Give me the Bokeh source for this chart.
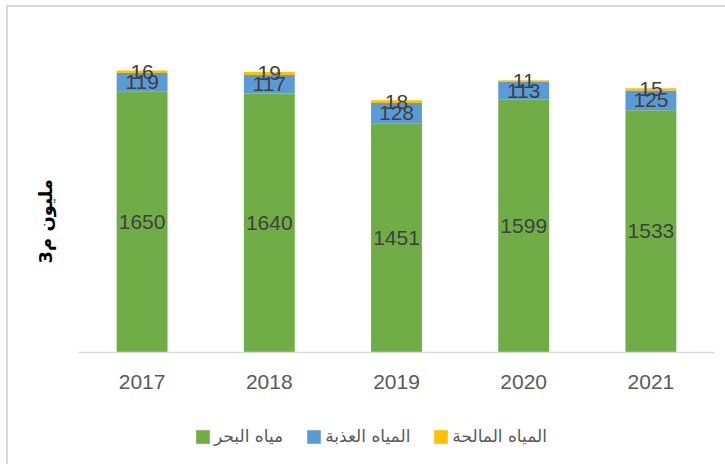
from bokeh.plotting import figure
from bokeh.layouts import column
from bokeh.models import ColumnDataSource, Legend, LegendItem, Title
from bokeh.core.properties import value
from bokeh.embed import file_html
from bokeh.resources import INLINE

years = ["2017", "2018", "2019", "2020", "2021"]
sea = [1650, 1640, 1451, 1599, 1533]
fresh = [119, 117, 128, 113, 125]
brackish = [16, 19, 18, 11, 15]
series_names = ["مياه البحر", "المياه العذبة", "المياه المالحة"]
colors = ["#70ad47", "#5b9bd5", "#ffc000"]
y_title = "مليون م3"

src = ColumnDataSource(dict(years=years, sea=sea, fresh=fresh, brackish=brackish))

p = figure(x_range=years, y_range=(0, 2000), width=717, height=400,
           output_backend="svg", toolbar_location=None,
           min_border_left=70, min_border_right=11, min_border_top=29, min_border_bottom=55)
p.outline_line_color = None
p.xgrid.grid_line_color = None
p.ygrid.grid_line_color = None
p.yaxis.visible = False
p.xaxis.axis_line_color = "#d9d9d9"
p.xaxis.axis_line_width = 1.5
p.xaxis.major_tick_line_color = None
p.xaxis.minor_tick_line_color = None
p.xaxis.major_label_text_font = "Liberation Sans"
p.xaxis.major_label_text_font_size = "21px"
p.xaxis.major_label_text_color = "#595959"
p.xaxis.major_label_standoff = 16
p.x_range.range_padding = 0

rs = p.vbar_stack(["sea", "fresh", "brackish"], x="years", width=0.4, color=colors,
                  line_color=None, source=src)

# label positions (segment midpoints)
lab_x, lab_y, lab_t = [], [], []
for i, yr in enumerate(years):
    b0 = 0
    for vals in (sea, fresh, brackish):
        v = vals[i]
        lab_x.append(yr)
        lab_y.append(b0 + v / 2)
        lab_t.append(str(v))
        b0 += v
p.text(x=lab_x, y=lab_y, text=lab_t, text_align="center", text_baseline="middle",
       text_font=value("Liberation Sans"), text_font_size="21px", text_color="#404040")

p.add_layout(Title(text=y_title, align="left", offset=89, standoff=45,
                   text_font="DejaVu Sans", text_font_size="18px", text_font_style="bold",
                   text_color="#000000"), "left")

# legend strip below the chart
q = figure(width=717, height=57, x_range=(0, 10), y_range=(0, 10),
           output_backend="svg", toolbar_location=None,
           x_axis_type=None, y_axis_type=None, min_border=0)
q.outline_line_color = None
q.xgrid.grid_line_color = None
q.ygrid.grid_line_color = None
dummies = [q.vbar(x=[-100], top=[-50], bottom=[-60], width=1, color=c, line_color=None)
           for c in colors]
legend = Legend(items=[LegendItem(label=series_names[i], renderers=[dummies[i]]) for i in range(3)],
                orientation="horizontal", location=(116, 18),
                glyph_width=17, glyph_height=17, label_standoff=3, spacing=22,
                padding=0, margin=0, border_line_color=None, background_fill_alpha=0,
                label_text_font="DejaVu Sans", label_text_font_size="17px",
                label_text_color="#595959")
q.add_layout(legend, "center")

layout = column(p, q, spacing=0)
layout.styles = {"border-top": "2px solid #d9d9d9", "border-left": "2px solid #d9d9d9",
                 "margin-left": "6px", "margin-top": "5px"}

open("out.html", "w").write(file_html(layout, INLINE))
